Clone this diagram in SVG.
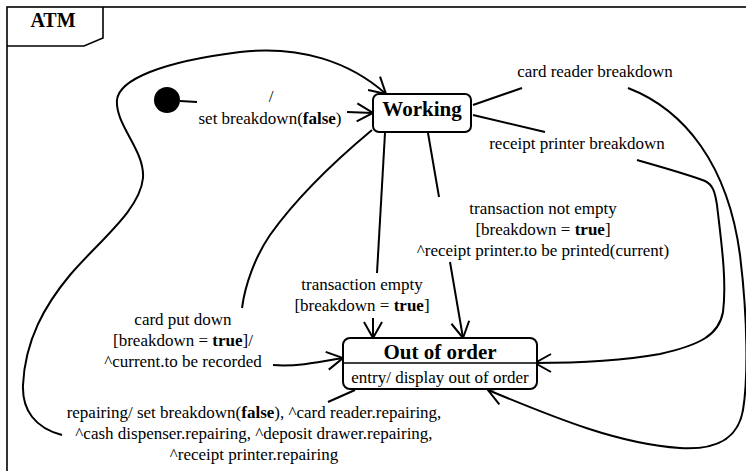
<svg xmlns="http://www.w3.org/2000/svg" width="746" height="471" viewBox="0 0 746 471">
  <style>
    .frame { fill: none; stroke: #000; stroke-width: 1.6; }
    .box { fill: #fff; stroke: #000; stroke-width: 2; }
    .edge { fill: none; stroke: #000; stroke-width: 2; }
    .arrow { marker-end: url(#open); }
    text { font-family: "Liberation Serif", "Times New Roman", serif; font-size: 17px; fill: #000; text-anchor: middle; }
    .title { font-size: 21px; font-weight: bold; }
    .b { font-weight: bold; }
  </style>
  <defs>
    <marker id="open" markerUnits="userSpaceOnUse" markerWidth="40" markerHeight="40" refX="0" refY="0" viewBox="-20 -20 40 40" orient="auto" overflow="visible">
      <path d="M -16 -9 L 0 0 L -16 9" fill="none" stroke="#000" stroke-width="2"/>
    </marker>
  </defs>

  <!-- diagram frame with name tab -->
  <g id="frame">
    <rect class="frame" x="7" y="7" width="800" height="500"/>
    <path class="frame" d="M 7 46 L 84 46 L 103 38 L 103 7"/>
    <text x="53" y="27" class="title" style="font-size:20px">ATM</text>
  </g>

  <!-- transitions -->
  <g id="connectors">
    <!-- initial -->
    <path class="edge" d="M 180 101 L 197 102"/>
    <path class="edge arrow" d="M 347 112 L 373 113"/>
    <!-- card reader breakdown -->
    <path class="edge" d="M 473 105 L 522 88"/>
    <path class="edge arrow" d="M 628 88 C 685 110, 728 165, 740 255 C 748 320, 748 380, 743 410 C 738 440, 715 450, 680 448 C 620 444, 560 420, 488 390"/>
    <!-- receipt printer breakdown -->
    <path class="edge" d="M 473 115 L 545 132"/>
    <path class="edge arrow" d="M 637 160 C 665 168, 690 175, 705 181 C 713 185, 715 192, 717 205 C 721 240, 727 280, 723 312 C 719 335, 700 345, 660 354 C 620 361, 575 363, 535 363"/>
    <!-- transaction empty -->
    <path class="edge" d="M 385 133 L 377 273"/>
    <path class="edge arrow" d="M 373 318 L 373 338"/>
    <!-- transaction not empty -->
    <path class="edge" d="M 428 133 L 439 197"/>
    <path class="edge arrow" d="M 450 262 L 463 338"/>
    <!-- card put down -->
    <path class="edge" d="M 372 130 C 330 165, 295 200, 270 235 C 255 257, 245 285, 242 308"/>
    <path class="edge arrow" d="M 273 365 C 295 367, 320 362, 343 358"/>
    <!-- repairing -->
    <path class="edge" d="M 355 390 L 328 402"/>
    <path class="edge arrow" d="M 62 435 C 35 428, 22 410, 23 385 C 25 340, 45 305, 70 275 C 100 240, 140 210, 143 178 C 145 150, 115 125, 117 100 C 119 80, 160 62, 240 52 C 300 45, 350 62, 386 94"/>
  </g>

  <!-- initial pseudo-state -->
  <g id="initial">
    <circle cx="167" cy="100" r="13" fill="#000"/>
  </g>

  <!-- states -->
  <g id="working">
    <rect class="box" x="373" y="94" width="98" height="38" rx="6"/>
    <text x="422" y="116" class="title">Working</text>
  </g>
  <g id="out-of-order">
    <rect class="box" x="343" y="338" width="194" height="51" rx="7"/>
    <line x1="343" y1="363" x2="537" y2="363" stroke="#000" stroke-width="1.6"/>
    <text x="440" y="359" class="title">Out of order</text>
    <text x="440" y="383">entry/ display out of order</text>
  </g>

  <!-- transition labels -->
  <g id="labels">
    <text x="271" y="102">/</text>
    <text x="270" y="124">set breakdown(<tspan class="b">false</tspan>)</text>
    <text x="595" y="77">card reader breakdown</text>
    <text x="577" y="149">receipt printer breakdown</text>
    <text x="543" y="214">transaction not empty</text>
    <text x="543" y="235">[breakdown = <tspan class="b">true</tspan>]</text>
    <text x="543" y="256">^receipt printer.to be printed(current)</text>
    <text x="362" y="290">transaction empty</text>
    <text x="362" y="311">[breakdown = <tspan class="b">true</tspan>]</text>
    <text x="183" y="325">card put down</text>
    <text x="183" y="346">[breakdown = <tspan class="b">true</tspan>]/</text>
    <text x="183" y="367">^current.to be recorded</text>
    <text x="254" y="418">repairing/ set breakdown(<tspan class="b">false</tspan>), ^card reader.repairing,</text>
    <text x="254" y="439">^cash dispenser.repairing, ^deposit drawer.repairing,</text>
    <text x="254" y="460">^receipt printer.repairing</text>
  </g>
</svg>
